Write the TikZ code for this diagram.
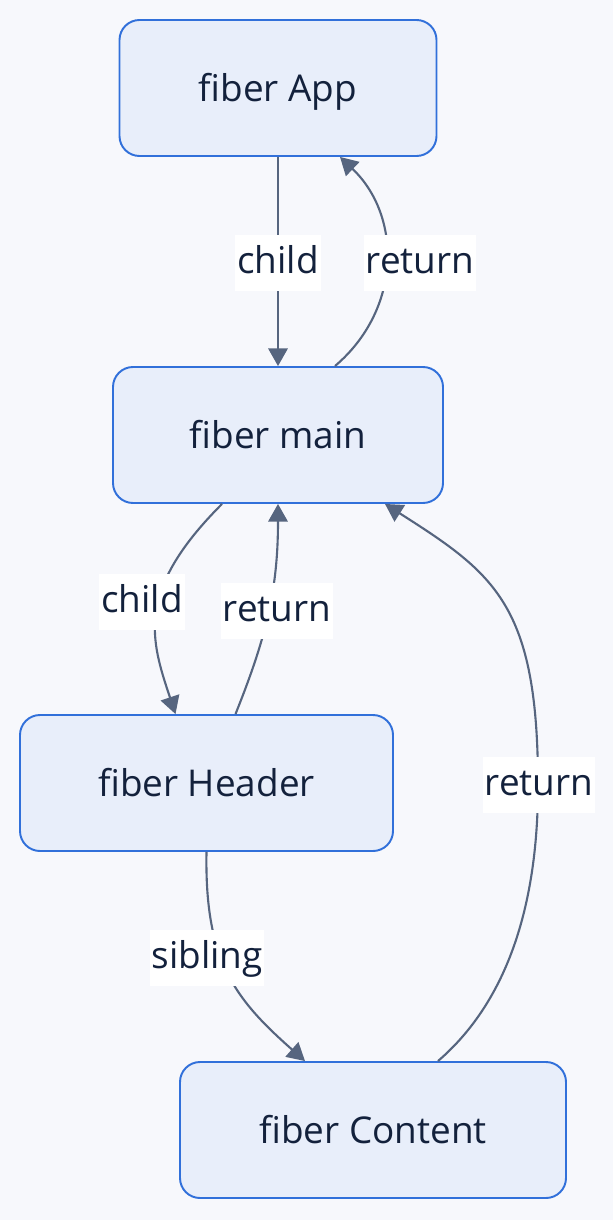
\documentclass[tikz,border=0pt]{standalone}
\usepackage{fontspec}
\setmainfont{Open Sans}
\usepackage{tikz}
\usetikzlibrary{positioning,arrows.meta}
\definecolor{bgcolor}{HTML}{F7F8FC}
\definecolor{nodefill}{HTML}{E8EEFA}
\definecolor{nodeborder}{HTML}{3170DA}
\definecolor{edgecolor}{HTML}{56657F}
\definecolor{textcolor}{HTML}{13213C}
\tikzset{
  fiber/.style={draw=nodeborder, fill=nodefill, line width=1.1pt, rounded corners=0.4cm,
    minimum height=2.72cm, text=textcolor, font=\fontsize{21}{25}\selectfont,
    text height=16pt, text depth=1pt},
  edgelabel/.style={fill=white, text=textcolor, font=\fontsize{21}{25}\selectfont,
    inner xsep=1pt, inner ysep=5.5pt, text height=16pt, text depth=4.5pt},
  link/.style={edgecolor, line width=1.2pt, -{Triangle[length=10pt,width=11pt]}}
}

\begin{document}
\begin{tikzpicture}
  \path[use as bounding box, fill=bgcolor] (0,0) rectangle (12.26,-24.4);
  \node[fiber, minimum width=6.34cm] (app) at (5.56,-1.76) {fiber App};
  \node[fiber, minimum width=6.60cm] (main) at (5.56,-8.70) {fiber main};
  \node[fiber, minimum width=7.46cm] (header) at (4.13,-15.66) {fiber Header};
  \node[fiber, minimum width=7.72cm] (content) at (7.46,-22.60) {fiber Content};

  \draw[link] (app.south) -- (main.north);
  \draw[link] ([xshift=1.14cm]main.north) .. controls +(1.34,1.14) and +(1.24,-1.18) .. ([xshift=1.24cm]app.south);
  \draw[link] ([xshift=-1.12cm]main.south) .. controls +(-1.74,-1.74) and +(-0.5,1.5) .. ([xshift=-0.62cm]header.north);
  \draw[link] ([xshift=0.58cm]header.north) .. controls +(0.6,1.5) and +(0,-1.74) .. (main.south);
  \draw[link] (header.south) .. controls +(-0.04,-2.18) and +(-1.4,1.24) .. ([xshift=-1.36cm]content.north);
  \draw[link] ([xshift=1.3cm]content.north) .. controls +(1.44,1.24) and +(0,-2.3) .. (10.76,-15.70)
    .. controls +(0,3.6) and +(2.2,-1.4) .. ([xshift=2.14cm]main.south);

  \node[edgelabel] (lblchildA) at (5.56,-5.26) {child};
  \node[edgelabel] (lblreturnA) at (8.40,-5.26) {return};
  \node[edgelabel] (lblchildB) at (2.84,-12.04) {child};
  \node[edgelabel] (lblreturnB) at (5.54,-12.22) {return};
  \node[edgelabel] (lblsibling) at (4.14,-19.16) {sibling};
  \node[edgelabel] (lblreturnC) at (10.78,-15.70) {return};
\end{tikzpicture}
\end{document}
